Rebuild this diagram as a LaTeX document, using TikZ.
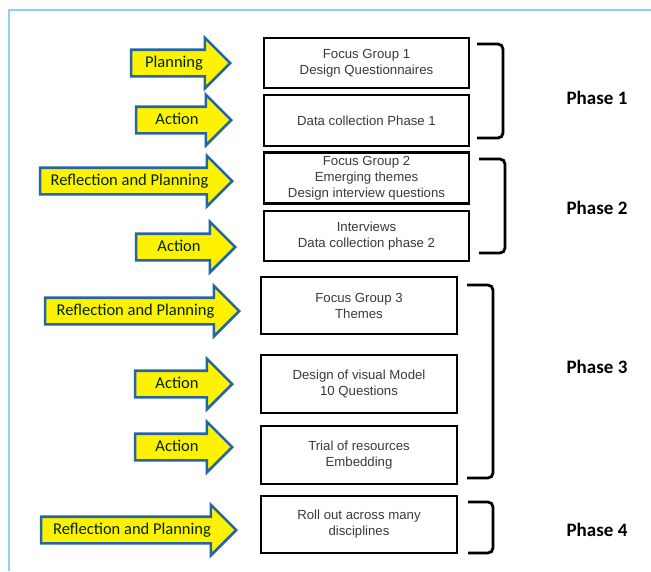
\documentclass[tikz,border=0pt]{standalone}
\usepackage{fontspec}
\setmainfont{Liberation Sans}
\newfontfamily\calib{Carlito}
\usetikzlibrary{shapes.arrows}

\definecolor{framecol}{HTML}{8FD0F2}
\definecolor{arrowline}{HTML}{2565A0}
\definecolor{boxtext}{HTML}{3A3A3A}

\tikzset{
  stepbox/.style={draw=black, line width=2.3pt, fill=white, align=center,
    font=\fontsize{13.2}{16}\selectfont, text=boxtext},
  actarrow/.style={single arrow, draw=arrowline, fill=yellow, line width=2.6pt,
    single arrow head extend=12pt, anchor=tip, inner ysep=5.5pt, inner xsep=3pt,
    text height=11pt, text depth=2pt, font=\calib\fontsize{16.5}{18}\selectfont,
    text=black!85!green},
  phasebrace/.style={line width=2.8pt, rounded corners=5pt},
  phaselabel/.style={font=\calib\bfseries\fontsize{19}{22}\selectfont}
}

\begin{document}
\begin{tikzpicture}[x=1pt, y=-1pt]

  \useasboundingbox (0,0) rectangle (651,571);

  % -- frame lines --
  \draw[framecol, line width=1.8pt] (9,571) -- (9,10) -- (651,10);

  % -- steps --
  \node[stepbox, minimum width=205, minimum height=50] (fg1) at (366.5,63) {Focus Group 1\\Design Questionnaires};
  \node[stepbox, minimum width=205, minimum height=51] (dc1) at (366.5,120.5) {Data collection Phase 1};
  \node[stepbox, minimum width=205, minimum height=51] (fg2) at (366.5,178) {Focus Group 2\\Emerging themes\\Design interview questions};
  \node[stepbox, minimum width=205, minimum height=50] (int2) at (366.5,236) {Interviews\\Data collection phase 2};
  \node[stepbox, minimum width=196, minimum height=57] (fg3) at (359,305.5) {Focus Group 3\\Themes};
  \node[stepbox, minimum width=196, minimum height=58] (model) at (359,384) {Design of visual Model\\10 Questions};
  \node[stepbox, minimum width=196, minimum height=58] (trial) at (359,455) {Trial of resources\\Embedding};
  \node[stepbox, minimum width=196, minimum height=57] (roll) at (359,524.5) {Roll out across many\\disciplines};

  % -- arrows into the steps --
  \node[actarrow, minimum height=99] (plan1) at (232,63) {Planning};
  \node[actarrow, minimum height=95] (act1) at (233,120) {Action};
  \node[actarrow, minimum height=192] (refl2) at (234,181) {Reflection and Planning};
  \node[actarrow, minimum height=99] (act2) at (237,247) {Action};
  \node[actarrow, minimum height=194] (refl3) at (241,311) {Reflection and Planning};
  \node[actarrow, minimum height=97] (act3a) at (234,384) {Action};
  \node[actarrow, minimum height=97] (act3b) at (234,447) {Action};
  \node[actarrow, minimum height=195] (refl4) at (238,530) {Reflection and Planning};

  % -- phase brackets --
  \draw[phasebrace] (477,44) -- (503,44) -- (503,138) -- (477,138);
  \draw[phasebrace] (479,159) -- (505,159) -- (505,253) -- (479,253);
  \draw[phasebrace] (467,285) -- (493,285) -- (493,478) -- (467,478);
  \draw[phasebrace] (468,502) -- (493,502) -- (493,553) -- (468,553);

  % -- phase labels --
  \node[phaselabel] (ph1) at (597,98) {Phase 1};
  \node[phaselabel] (ph2) at (597,208) {Phase 2};
  \node[phaselabel] (ph3) at (597,367) {Phase 3};
  \node[phaselabel] (ph4) at (597,530) {Phase 4};

\end{tikzpicture}
\end{document}
